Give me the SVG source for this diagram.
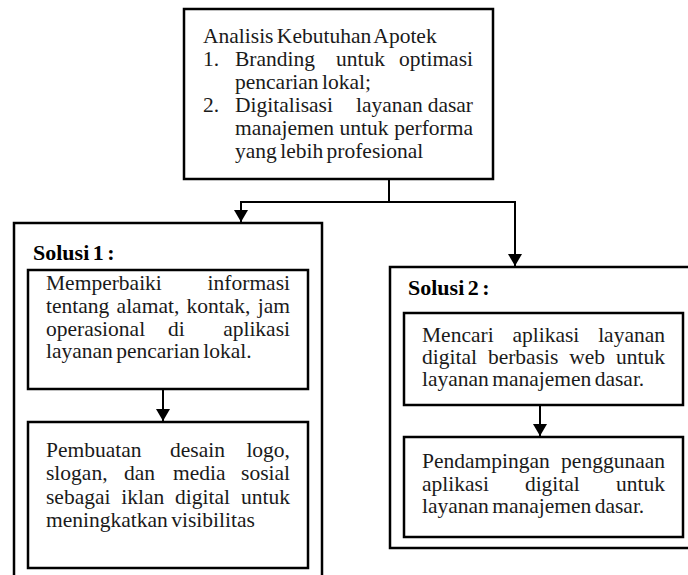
<svg xmlns="http://www.w3.org/2000/svg" width="688" height="575" viewBox="0 0 688 575">
<style>
.box{fill:#fff;stroke:#000;stroke-width:2.5}
.cn{fill:none;stroke:#000;stroke-width:2}
text{font-family:'Liberation Serif','Times New Roman',Tinos,'DejaVu Serif',serif;font-size:21.5px;fill:#1a1a1a;word-spacing:-2px}
.e{text-anchor:end}
.b{font-weight:bold;font-size:22px;fill:#000}
</style>
<defs>
<marker id="ah" viewBox="0 0 12 14" refX="12" refY="7" markerWidth="12" markerHeight="14" orient="auto" markerUnits="userSpaceOnUse"><path d="M0,0 L12,7 L0,14 z" fill="#000"/></marker>
</defs>
<rect width="688" height="575" fill="#fff"/>
<g id="analisis">
<rect class="box" x="184" y="9" width="309" height="170"/>
<text x="203" y="43">Analisis Kebutuhan Apotek</text>
<text x="203" y="66">1.</text><text x="235" y="66">Branding</text><text x="336" y="66">untuk</text><text class="e" x="473" y="66">optimasi</text>
<text x="235" y="89">pencarian lokal;</text>
<text x="203" y="112">2.</text><text x="235" y="112">Digitalisasi</text><text x="356" y="112">layanan</text><text class="e" x="473" y="112">dasar</text>
<text x="235" y="135">manajemen</text><text x="339.6" y="135">untuk</text><text class="e" x="473" y="135">performa</text>
<text x="235" y="158">yang lebih profesional</text>
</g>
<g id="solusi1">
<rect class="box" x="14" y="223" width="308" height="370"/>
<text class="b" x="33" y="260">Solusi 1 :</text>
</g>
<g id="s1a">
<rect class="box" x="28" y="270" width="280" height="119"/>
<text x="46" y="290">Memperbaiki</text><text class="e" x="290" y="290">informasi</text>
<text x="46" y="313">tentang</text><text x="116.6" y="313">alamat,</text><text x="186.6" y="313">kontak,</text><text class="e" x="290" y="313">jam</text>
<text x="46" y="336">operasional</text><text x="168" y="336">di</text><text class="e" x="290" y="336">aplikasi</text>
<text x="46" y="358">layanan pencarian lokal.</text>
</g>
<g id="s1b">
<rect class="box" x="28" y="422" width="280" height="146"/>
<text x="46" y="457">Pembuatan</text><text x="170" y="457">desain</text><text class="e" x="290" y="457">logo,</text>
<text x="46" y="480">slogan,</text><text x="124" y="480">dan</text><text x="173" y="480">media</text><text class="e" x="290" y="480">sosial</text>
<text x="46" y="504">sebagai</text><text x="121.3" y="504">iklan</text><text x="175.1" y="504">digital</text><text class="e" x="290" y="504">untuk</text>
<text x="46" y="527">meningkatkan visibilitas</text>
</g>
<g id="solusi2">
<rect class="box" x="390" y="267" width="320" height="281"/>
<text class="b" x="408" y="295">Solusi 2 :</text>
</g>
<g id="s2a">
<rect class="box" x="404" y="313" width="279" height="92"/>
<text x="422" y="342">Mencari</text><text x="512.4" y="342">aplikasi</text><text class="e" x="665" y="342">layanan</text>
<text x="422" y="364">digital</text><text x="487.9" y="364">berbasis</text><text x="569.3" y="364">web</text><text class="e" x="665" y="364">untuk</text>
<text x="422" y="386">layanan manajemen dasar.</text>
</g>
<g id="s2b">
<rect class="box" x="404" y="437" width="279" height="100"/>
<text x="422" y="468">Pendampingan</text><text class="e" x="665" y="468">penggunaan</text>
<text x="422" y="491">aplikasi</text><text x="524.9" y="491">digital</text><text class="e" x="665" y="491">untuk</text>
<text x="422" y="513">layanan manajemen dasar.</text>
</g>
<g id="connectors">
<path class="cn" d="M389,179 V202"/>
<path class="cn" d="M240,202 H516"/>
<path class="cn" d="M241,202 V222" marker-end="url(#ah)"/>
<path class="cn" d="M515,202 V266" marker-end="url(#ah)"/>
<path class="cn" d="M163,389 V421" marker-end="url(#ah)"/>
<path class="cn" d="M540,405 V436" marker-end="url(#ah)"/>
</g>
</svg>
